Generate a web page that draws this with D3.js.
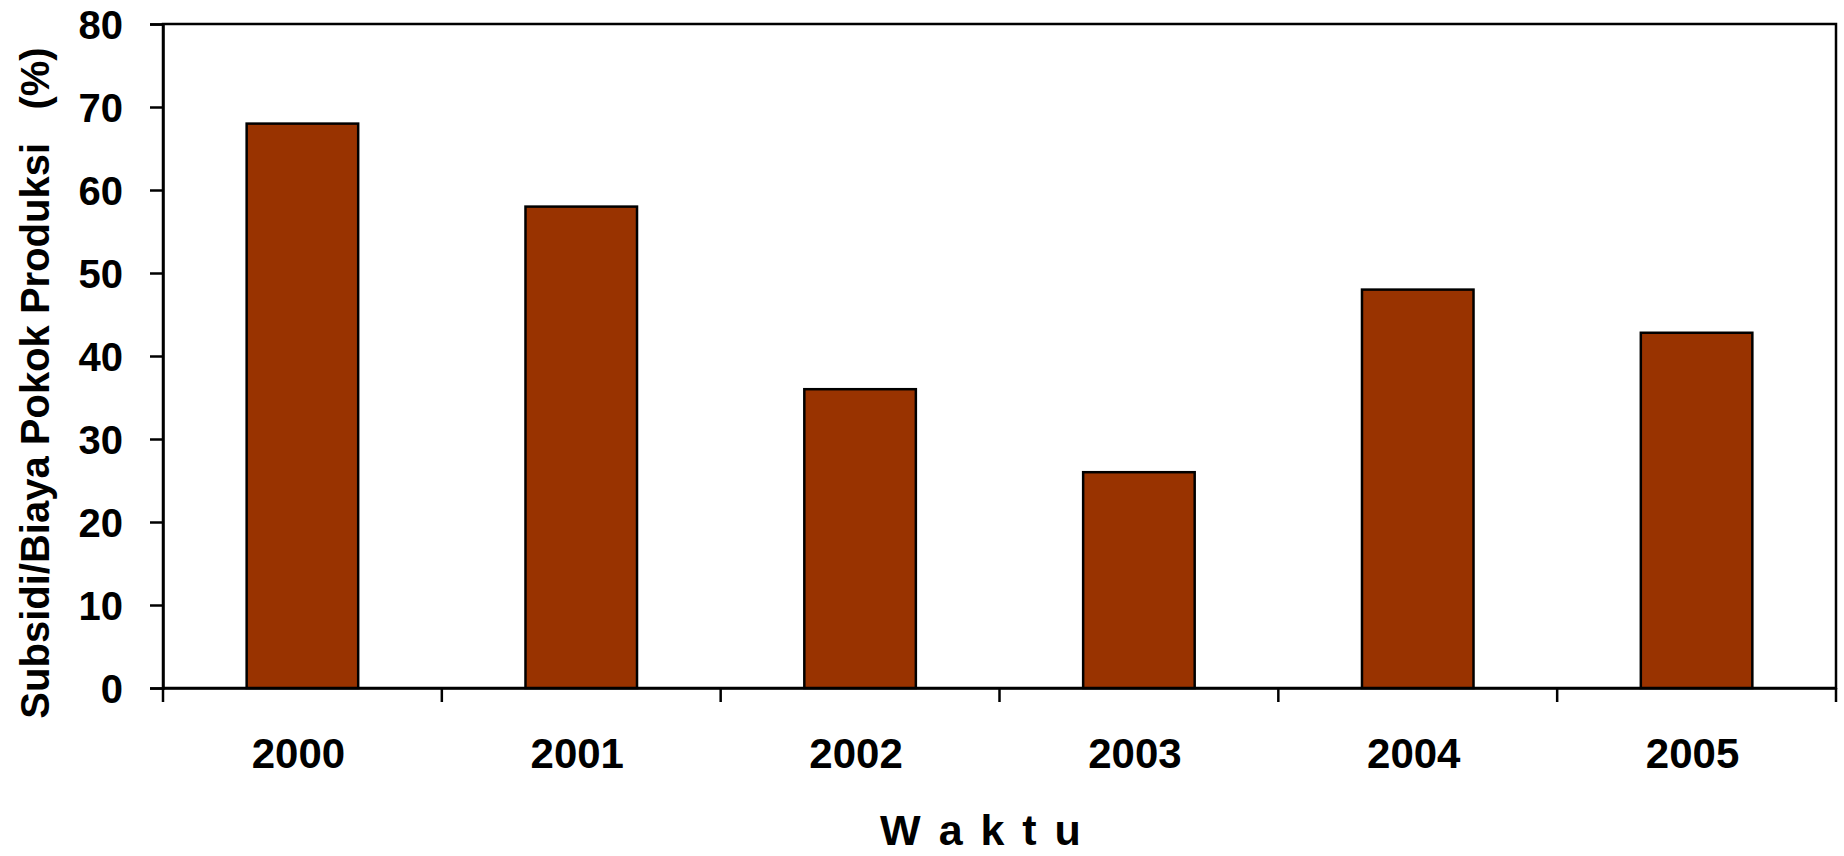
<!DOCTYPE html>
<html>
<head>
<meta charset="utf-8">
<script src="https://cdn.jsdelivr.net/npm/d3@7"></script>
<style>
    body { margin: 0; background: #fff; }
    text { font-family: "Liberation Sans", Arial, sans-serif; font-weight: bold; fill: #000; }
</style>
</head>
<body>
<div id="chart-area"></div>
<script>
// Chart data
const years = ['2000', '2001', '2002', '2003', '2004', '2005'];
const subsidi = [68, 58, 36, 26, 48, 42.8];
const yTicks = [0, 10, 20, 30, 40, 50, 60, 70, 80];

const wChart = 1844;
const hChart = 856;
const margin = {top: 24, right: 8, bottom: 168, left: 163};
const wGraph = wChart - margin.left - margin.right;
const hGraph = hChart - margin.top - margin.bottom;

const svg = d3.select('#chart-area')
    .append('svg')
    .attr('width', wChart)
    .attr('height', hChart);

const graph = svg.append('g')
    .attr('transform', `translate(${margin.left}, ${margin.top})`);

// Scales
const xScale = d3.scaleBand()
    .domain(years)
    .range([0, wGraph])
    .paddingInner(0.6)
    .paddingOuter(0.3);

const yScale = d3.scaleLinear()
    .domain([0, 80])
    .range([hGraph, 0]);

// Plot area border
graph.append('rect')
    .attr('x', 0)
    .attr('y', 0)
    .attr('width', wGraph)
    .attr('height', hGraph)
    .attr('fill', 'none')
    .attr('stroke', '#000')
    .attr('stroke-width', 2.5);

// Bars
graph.selectAll('rect.bar')
    .data(years)
    .enter()
    .append('rect')
    .attr('class', 'bar')
    .attr('x', d => xScale(d))
    .attr('y', (d, i) => yScale(subsidi[i]))
    .attr('width', xScale.bandwidth())
    .attr('height', (d, i) => hGraph - yScale(subsidi[i]))
    .attr('fill', '#993300')
    .attr('stroke', '#000')
    .attr('stroke-width', 2.5);

// Y axis
const yAxisCall = d3.axisLeft(yScale)
    .tickValues(yTicks)
    .tickSize(13)
    .tickPadding(27);
const yAxis = graph.append('g')
    .attr('class', 'y-axis')
    .call(yAxisCall);
yAxis.select('.domain').attr('stroke-width', 2.5);
yAxis.selectAll('.tick line').attr('stroke-width', 2.5);
yAxis.selectAll('text')
    .attr('font-size', '40px')
    .attr('dy', '0.36em');

// X axis: labels centred on bars, ticks on category boundaries
const xAxisCall = d3.axisBottom(xScale)
    .tickSize(0)
    .tickPadding(0);
const xAxis = graph.append('g')
    .attr('class', 'x-axis')
    .attr('transform', `translate(0, ${hGraph})`)
    .call(xAxisCall);
xAxis.select('.domain').attr('stroke', '#000').attr('stroke-width', 2.5);
xAxis.selectAll('text')
    .attr('font-size', '42px')
    .attr('dy', null)
    .attr('x', -4)
    .attr('y', 80);

const step = xScale.step();
const boundaries = d3.range(years.length + 1).map(i => i * step);
xAxis.selectAll('line.boundary')
    .data(boundaries)
    .enter()
    .append('line')
    .attr('class', 'boundary')
    .attr('x1', d => d)
    .attr('x2', d => d)
    .attr('y1', 0)
    .attr('y2', 14)
    .attr('stroke', '#000')
    .attr('stroke-width', 2.5);

// Axis titles
svg.append('text')
    .attr('transform', `translate(49, 383) rotate(-90)`)
    .attr('text-anchor', 'middle')
    .attr('font-size', '40px')
    .style('white-space', 'pre')
    .text('Subsidi/Biaya Pokok Produksi   (%)');

svg.append('text')
    .attr('x', 982)
    .attr('y', 845)
    .attr('text-anchor', 'middle')
    .attr('font-size', '43px')
    .attr('letter-spacing', '3px')
    .style('white-space', 'pre')
    .text('W a k t u');
</script>
</body>
</html>
